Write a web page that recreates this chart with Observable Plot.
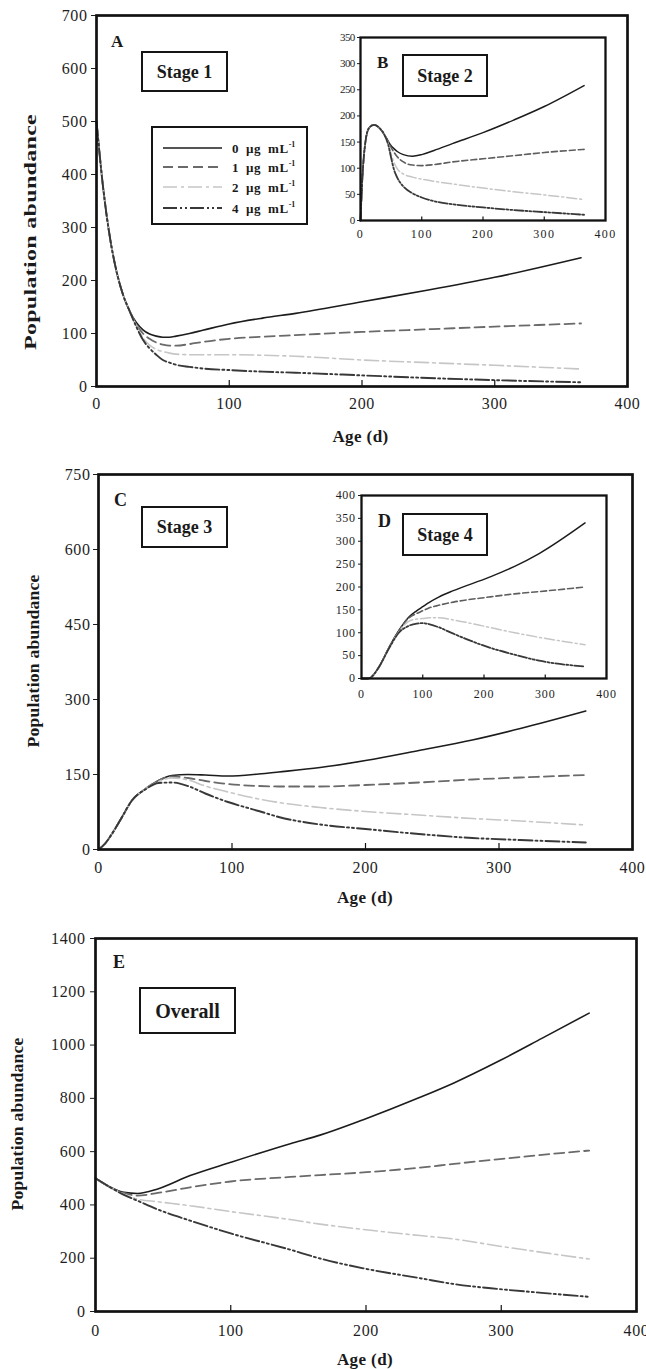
<!DOCTYPE html>
<html>
<head>
<meta charset="utf-8">
<script src="https://cdn.jsdelivr.net/npm/d3@7"></script>
<script src="https://cdn.jsdelivr.net/npm/@observablehq/plot@0.6"></script>
<style>
  body { margin: 0; background: #fff; }
  #root { position: relative; width: 646px; height: 1369px; overflow: hidden; background: #fff;
          font-family: "Liberation Serif", "Times New Roman", serif; color: #1a1a1a; }
  .plotwrap { position: absolute; }
  .plotwrap svg { overflow: visible; }
  .letter { position: absolute; font-weight: bold; line-height: 1; }
  .stage { position: absolute; box-sizing: border-box; border: 2px solid #151515; background: #fff;
           display: flex; align-items: center; justify-content: center; font-weight: bold; line-height: 1; }
  .ytitle { position: absolute; font-weight: bold; font-size: 16px; line-height: 1; white-space: nowrap; letter-spacing: 0.2px; }
  .xtitle { position: absolute; font-weight: bold; font-size: 17px; line-height: 1; white-space: nowrap; letter-spacing: 0.4px;
            transform: translate(-50%, -50%); }
  .legend { position: absolute; box-sizing: border-box; border: 2px solid #151515; background: #fff; }
  .legrow { position: absolute; left: 0; height: 20px; width: 100%; }
  .legrow svg { position: absolute; left: 9px; top: 0; }
  .legrow span { position: absolute; left: 79px; top: 3px; font-weight: bold; font-size: 13px; line-height: 1; letter-spacing: 0.6px; word-spacing: 3px; white-space: nowrap; }
  .legrow sup { font-size: 8px; vertical-align: 6px; letter-spacing: 0; }
  .main g[aria-label="y-axis tick label"] text, .main g[aria-label="x-axis tick label"] text { letter-spacing: 0.6px; }
  .insetB g[aria-label="y-axis tick label"] text { letter-spacing: -0.7px; }
  .insetB g[aria-label="x-axis tick label"] text { letter-spacing: 1.4px; }
  .insetD g[aria-label="y-axis tick label"] text { letter-spacing: 0.6px; }
  .insetD g[aria-label="x-axis tick label"] text { letter-spacing: 0.8px; }
</style>
</head>
<body>
<div id="root"></div>
<script>
// ---------------- DATA ----------------
const concentrations = ["0", "1", "2", "4"];
const xTicks = [0, 100, 200, 300, 400];
const xInnerTicks = [100, 200, 300];

// Panel A : Stage 1
const daysA = [0, 5, 10, 15, 20, 25, 30, 35, 40, 45, 50, 55, 60, 70, 80, 100, 125, 150, 200, 250, 300, 365];
const stage1_c0 = [500, 375, 283, 218, 173, 142, 121, 107, 99, 95, 93, 93, 95, 100, 106, 118, 129, 138, 160, 182, 206, 243];
const stage1_c1 = [500, 375, 283, 218, 173, 142, 117, 100, 90, 83, 79, 77, 77, 80, 84, 90, 94, 97, 103, 108, 113, 119];
const stage1_c2 = [500, 375, 283, 218, 173, 142, 115, 92, 78, 70, 66, 63, 61, 60, 60, 60, 59, 57, 50, 45, 40, 33];
const stage1_c4 = [500, 375, 283, 218, 173, 142, 113, 88, 72, 60, 50, 45, 41, 37, 34, 31, 28, 26, 21, 16, 12, 8];
const yTicksA = [0, 100, 200, 300, 400, 500, 600, 700];

// Panel B : Stage 2 (inset)
const daysB = [0, 3, 8, 14, 22, 30, 38, 45, 50, 55, 60, 70, 85, 100, 120, 150, 200, 250, 300, 365];
const stage2_c0 = [0, 80, 150, 177, 183, 178, 166, 152, 143, 137, 132, 126, 123, 126, 134, 147, 168, 192, 218, 258];
const stage2_c1 = [0, 80, 150, 177, 183, 178, 166, 152, 140, 130, 122, 112, 106, 105, 107, 112, 118, 124, 130, 136];
const stage2_c2 = [0, 80, 150, 177, 183, 178, 166, 148, 127, 110, 99, 89, 83, 79, 75, 70, 62, 55, 49, 40];
const stage2_c4 = [0, 80, 150, 177, 183, 178, 166, 146, 120, 96, 82, 65, 52, 44, 37, 31, 25, 20, 16, 11];
const yTicksB = [0, 50, 100, 150, 200, 250, 300, 350];

// Panel C : Stage 3
const daysC = [0, 5, 10, 17, 25, 35, 45, 55, 67, 80, 97, 120, 135, 166, 200, 240, 280, 316, 365];
const stage3_c0 = [0, 12, 31, 62, 98, 121, 138, 148, 150, 149, 147, 151, 155, 164, 178, 198, 219, 242, 277];
const stage3_c1 = [0, 12, 31, 62, 98, 121, 138, 146, 143, 137, 131, 127, 126, 126, 129, 134, 140, 144, 149];
const stage3_c2 = [0, 12, 31, 62, 98, 121, 136, 143, 139, 127, 115, 101, 94, 84, 76, 69, 62, 57, 49];
const stage3_c4 = [0, 12, 31, 62, 98, 120, 133, 134, 127, 112, 95, 77, 65, 50, 41, 31, 23, 19, 14];
const yTicksC = [0, 150, 300, 450, 600, 750];

// Panel D : Stage 4 (inset)
const daysD = [0, 10, 15, 28, 45, 61, 77, 90, 100, 110, 126, 150, 208, 250, 290, 365];
const stage4_c0 = [0, 0, 2, 24, 68, 105, 134, 148, 157, 166, 178, 192, 221, 245, 273, 340];
const stage4_c1 = [0, 0, 2, 24, 68, 104, 132, 142, 148, 154, 160, 167, 178, 185, 190, 200];
const stage4_c2 = [0, 0, 2, 24, 67, 102, 125, 130, 131, 133, 133, 128, 112, 100, 90, 74];
const stage4_c4 = [0, 0, 2, 24, 66, 100, 115, 120, 121, 119, 112, 98, 68, 52, 39, 26];
const yTicksD = [0, 50, 100, 150, 200, 250, 300, 350, 400];

// Panel E : Overall
const daysE = [0, 11, 21, 31, 46, 70, 100, 144, 166, 198, 240, 265, 299, 330, 365];
const overall_c0 = [500, 466, 447, 443, 460, 510, 560, 630, 662, 720, 804, 858, 942, 1025, 1120];
const overall_c1 = [500, 466, 445, 435, 445, 466, 488, 505, 512, 522, 540, 554, 572, 588, 604];
const overall_c2 = [500, 466, 440, 422, 412, 397, 375, 345, 328, 308, 285, 272, 245, 222, 197];
const overall_c4 = [500, 466, 438, 416, 383, 341, 293, 232, 199, 162, 125, 103, 84, 70, 55];
const yTicksE = [0, 200, 400, 600, 800, 1000, 1200, 1400];

// ---------------- STYLES ----------------
const mainStyles = {
  "0": {stroke: "#1c1c1c", strokeWidth: 1.6},
  "1": {stroke: "#6a6a6a", strokeWidth: 1.8, strokeDasharray: "10,5"},
  "2": {stroke: "#c6c6c6", strokeWidth: 1.6, strokeDasharray: "14,4,3,4"},
  "4": {stroke: "#383838", strokeWidth: 1.9, strokeDasharray: "14,3,2,3,2,3"}
};
const insetStyles = {
  "0": {stroke: "#1c1c1c", strokeWidth: 1.5},
  "1": {stroke: "#5e5e5e", strokeWidth: 1.6, strokeDasharray: "6,3"},
  "2": {stroke: "#c6c6c6", strokeWidth: 1.5, strokeDasharray: "10,3,2,3"},
  "4": {stroke: "#383838", strokeWidth: 1.8, strokeDasharray: "9,2,2,2,2,2"}
};

function lineMarks(days, seriesList, styles) {
  return seriesList.map((vals, k) => {
    const conc = concentrations[k];
    const rows = days.map((d, i) => ({day: d, value: vals[i], conc}));
    return Plot.line(rows, {x: "day", y: "value", curve: "monotone-x", strokeLinejoin: "round", ...styles[conc]});
  });
}

function makePanel(o) {
  const frameH = o.height - o.mt - o.mb;
  const tickLen = o.xTickSize * o.yMax / frameH; // inward tick length expressed in y units
  return Plot.plot({
    className: o.cls,
    width: o.width, height: o.height,
    marginTop: o.mt, marginRight: o.mr, marginBottom: o.mb, marginLeft: o.ml,
    style: {fontFamily: '"Liberation Serif", "Times New Roman", serif', fontSize: o.font + "px",
            background: "transparent", color: "#1e1e1e", overflow: "visible"},
    x: {domain: [0, 400]},
    y: {domain: [0, o.yMax]},
    marks: [
      ...lineMarks(o.days, o.series, o.styles),
      Plot.ruleX(xInnerTicks, {x: d => d, y1: 0, y2: tickLen, stroke: "#111", strokeWidth: 1.2}),
      Plot.axisY({ticks: o.yTicks, tickSize: o.yTickSize, tickPadding: o.yPad, label: null,
                  tickFormat: d => String(d), fontSize: o.yFont}),
      Plot.axisX({ticks: xTicks, tickSize: 0, tickPadding: o.xPad, label: null,
                  tickFormat: d => String(d), fontSize: o.xFont}),
      Plot.frame({stroke: "#111", strokeWidth: o.frameW})
    ]
  });
}

const root = document.getElementById("root");
function place(svg, left, top) {
  const w = document.createElement("div");
  w.className = "plotwrap";
  w.style.left = left + "px";
  w.style.top = top + "px";
  w.appendChild(svg);
  root.appendChild(w);
}

// Main panels
place(makePanel({cls: "main", width: 646, height: 445, mt: 15, mr: 19, mb: 59, ml: 96, font: 16, yFont: 16, xFont: 16,
  yMax: 700, yTicks: yTicksA, days: daysA, series: [stage1_c0, stage1_c1, stage1_c2, stage1_c4], styles: mainStyles,
  yTickSize: 5, yPad: 4, xPad: 11, xTickSize: 6, frameW: 2.7}), 0, 0);

place(makePanel({cls: "main", width: 646, height: 470, mt: 29, mr: 14, mb: 66, ml: 98, font: 16, yFont: 16, xFont: 16,
  yMax: 750, yTicks: yTicksC, days: daysC, series: [stage3_c0, stage3_c1, stage3_c2, stage3_c4], styles: mainStyles,
  yTickSize: 5, yPad: 3, xPad: 12, xTickSize: 6, frameW: 2.7}), 0, 445);

place(makePanel({cls: "main", width: 646, height: 454, mt: 23, mr: 10, mb: 58, ml: 95, font: 16, yFont: 16, xFont: 16,
  yMax: 1400, yTicks: yTicksE, days: daysE, series: [overall_c0, overall_c1, overall_c2, overall_c4], styles: mainStyles,
  yTickSize: 5, yPad: 5, xPad: 13.5, xTickSize: 6, frameW: 2.7}), 0, 915);

// Insets
place(makePanel({cls: "insetB", width: 310, height: 225, mt: 12, mr: 25, mb: 30, ml: 40, font: 11, yFont: 11, xFont: 12,
  yMax: 350, yTicks: yTicksB, days: daysB, series: [stage2_c0, stage2_c1, stage2_c2, stage2_c4], styles: insetStyles,
  yTickSize: 3, yPad: 3, xPad: 8.8, xTickSize: 3.5, frameW: 2.3}), 320, 25);

place(makePanel({cls: "insetD", width: 310, height: 225, mt: 13, mr: 24, mb: 29, ml: 41, font: 12, yFont: 12, xFont: 12,
  yMax: 400, yTicks: yTicksD, days: daysD, series: [stage4_c0, stage4_c1, stage4_c2, stage4_c4], styles: insetStyles,
  yTickSize: 3, yPad: 3, xPad: 11, xTickSize: 3.5, frameW: 2.3}), 320, 482);

// ---------------- ANNOTATIONS ----------------
function addDiv(cls, html, css) {
  const d = document.createElement("div");
  d.className = cls;
  d.innerHTML = html;
  Object.assign(d.style, css);
  root.appendChild(d);
  return d;
}
const letters = [["A", 111, 33, 17], ["B", 377, 54, 17], ["C", 114, 491, 18], ["D", 378, 512, 18], ["E", 113, 953, 18]];
letters.forEach(([t, x, y, f]) => addDiv("letter", t, {left: x + "px", top: y + "px", fontSize: f + "px"}));

const stages = [["Stage 1", 141, 51, 87, 41, 18], ["Stage 2", 402, 54, 86, 43, 18], ["Stage 3", 141, 506, 87, 42, 18],
                ["Stage 4", 402, 513, 86, 43, 18], ["Overall", 139, 987, 97, 47, 20]];
stages.forEach(([t, x, y, w, h, f]) => addDiv("stage", t, {left: x + "px", top: y + "px", width: w + "px", height: h + "px", fontSize: f + "px"}));

const yTitles = [[31, 232, 1.5], [34, 661, 1.1], [18, 1124, 1.1]];
yTitles.forEach(([cx, cy, s]) => addDiv("ytitle", "Population abundance",
  {left: cx + "px", top: cy + "px", transform: `translate(-50%, -50%) rotate(-90deg) scaleX(${s})`}));

const xTitles = [[360.5, 435.5], [365, 897], [365, 1359]];
xTitles.forEach(([cx, cy]) => addDiv("xtitle", "Age (d)", {left: cx + "px", top: cy + "px"}));

// Legend
const legend = addDiv("legend", "", {left: "151px", top: "126px", width: "157px", height: "99px"});
const legendRows = [9.7, 29, 49, 69.7];
concentrations.forEach((c, i) => {
  const row = document.createElement("div");
  row.className = "legrow";
  row.style.top = legendRows[i] + "px";
  const st = mainStyles[c];
  row.innerHTML = `<svg width="62" height="20"><line x1="1" x2="60" y1="10" y2="10" stroke="${st.stroke}" stroke-width="${st.strokeWidth}" ${st.strokeDasharray ? `stroke-dasharray="${st.strokeDasharray}"` : ""}/></svg><span>${c} µg mL<sup>-1</sup></span>`;
  legend.appendChild(row);
});
</script>
</body>
</html>
